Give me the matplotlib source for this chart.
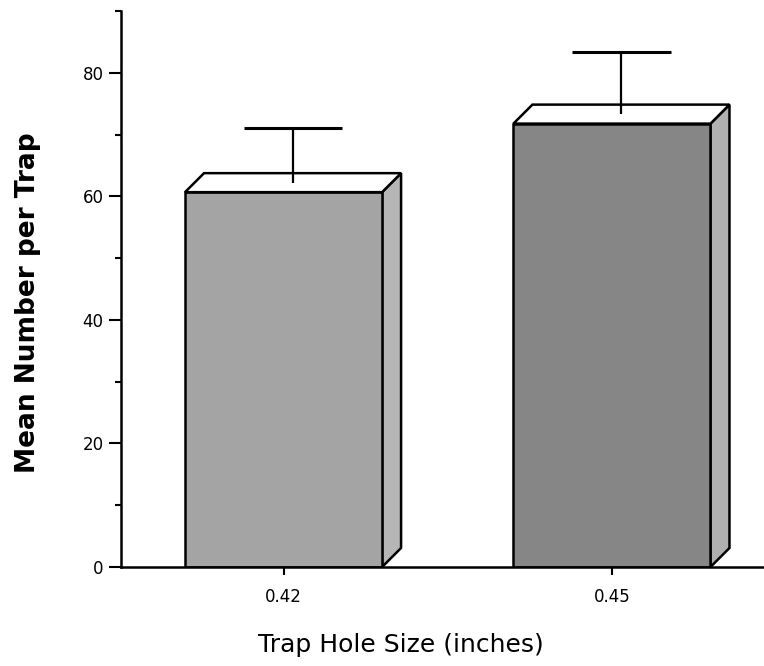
import matplotlib
matplotlib.use("Agg")
import matplotlib.pyplot as plt
from matplotlib.patches import Polygon
import numpy as np

# ---- data ----
categories = ["0.42", "0.45"]
means = [60.7, 71.8]
errors = [8.8, 10.0]
y_ticks = [0, 20, 40, 60, 80]
y_minor = [10, 30, 50, 70, 90]

front_colors = ["#a4a4a4", "#868686"]
side_colors = ["#b6b6b6", "#b0b0b0"]

plt.rcParams['font.family'] = ['DejaVu Sans']

fig = plt.figure(figsize=(7.64, 6.66), dpi=100)
ax = fig.add_axes([121/764, 99/666, 1 - 121/764, 0.8345])

x = np.arange(len(categories))
width = 0.6
lw = 1.8
depth_px = 19.0

ax.set_xlim(-0.495, 1.463)
ax.set_ylim(0, 90)

# data units per pixel (axes geometry is fixed)
p0 = ax.transData.transform((0, 0))
p1 = ax.transData.transform((1, 1))
dx = depth_px / (p1[0] - p0[0])
dy = depth_px / (p1[1] - p0[1])

bars = ax.bar(x, means, width=width, color=front_colors, edgecolor="black",
              linewidth=lw, zorder=3)

for i, (xi, h) in enumerate(zip(x, means)):
    L, R = xi - width/2, xi + width/2
    side = Polygon([(R, 0), (R, h), (R + dx, h + dy), (R + dx, dy)], closed=True,
                   facecolor=side_colors[i], edgecolor="black", linewidth=lw,
                   joinstyle="miter", zorder=2)
    top = Polygon([(L, h), (R, h), (R + dx, h + dy), (L + dx, h + dy)], closed=True,
                  facecolor="white", edgecolor="black", linewidth=lw,
                  joinstyle="miter", zorder=4)
    ax.add_patch(side)
    ax.add_patch(top)
    # error bar from the middle of the top face
    ex = xi + dx/2
    ey = h + dy/2
    ax.plot([ex, ex], [ey, ey + errors[i]], color="black", linewidth=1.6,
            zorder=5, solid_capstyle="butt")
    ax.plot([ex - 0.15, ex + 0.15], [ey + errors[i]] * 2, color="black",
            linewidth=2.2, zorder=5, solid_capstyle="butt")

ax.set_xticks(x)
ax.set_xticklabels(categories, fontsize=12)
ax.set_yticks(y_ticks)
ax.set_yticklabels([str(v) for v in y_ticks], fontsize=12)
ax.set_yticks(y_minor, minor=True)

ax.tick_params(axis="y", which="major", length=8.6, width=1.5, pad=4, direction="out")
ax.tick_params(axis="y", which="minor", length=4.3, width=1.5, direction="out")
ax.tick_params(axis="x", which="major", length=6, width=1.5, pad=9, direction="out")

for s in ["top", "right"]:
    ax.spines[s].set_visible(False)
for s in ["left", "bottom"]:
    ax.spines[s].set_linewidth(lw)
ax.spines["bottom"].set_zorder(6)

ax.set_ylabel("Mean Number per Trap", fontsize=19, fontweight="bold",
              va="center")
ax.yaxis.set_label_coords(-0.145, 0.475)
ax.set_xlabel("Trap Hole Size (inches)", fontsize=18, va="center")
ax.xaxis.set_label_coords(0.435, -0.14)

fig.savefig("out.png", dpi=100)
